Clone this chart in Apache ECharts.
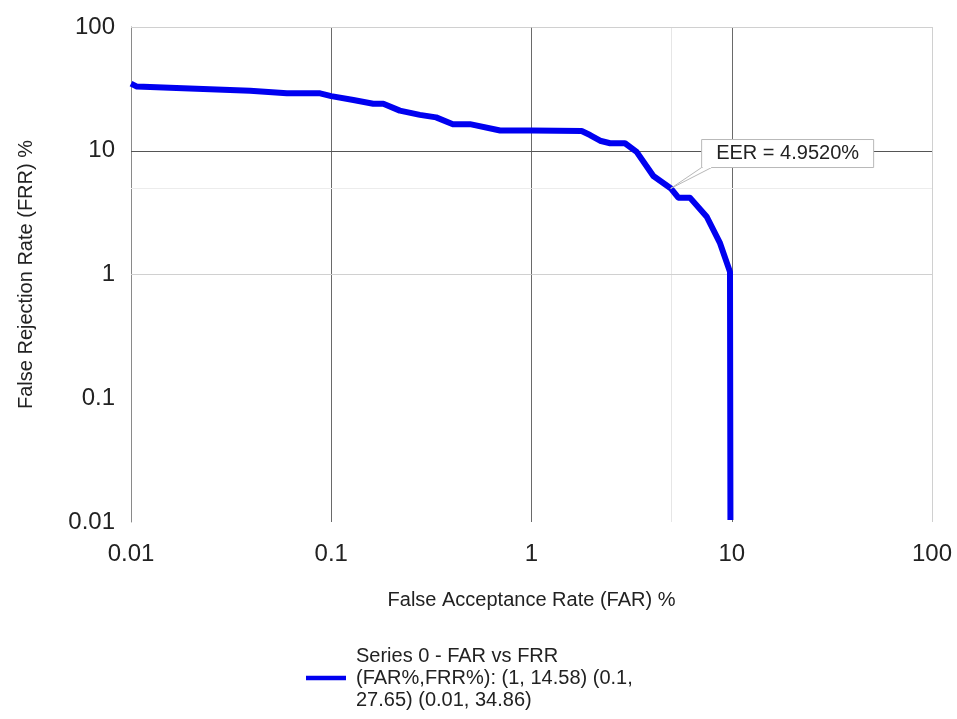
<!DOCTYPE html>
<html>
<head>
<meta charset="utf-8">
<script src="https://cdn.jsdelivr.net/npm/echarts@6/dist/echarts.min.js"></script>
<style>
html,body{margin:0;padding:0;background:#fff;}
#chart{width:957px;height:719px;}
</style>
</head>
<body>
<div id="chart"></div>
<script>
// ---- data ----
const farValues = [0.01, 0.0107, 0.0182, 0.0393, 0.06, 0.088, 0.1, 0.129, 0.162, 0.182, 0.22, 0.277, 0.334, 0.405, 0.493, 0.697, 1, 1.78, 1.96, 2.2, 2.47, 2.93, 3.35, 4.06, 4.952, 5.41, 6.18, 7.5, 8.74, 9.8, 9.85];
const frrValues = [34.86, 33.0, 32.0, 30.6, 29.1, 29.1, 27.65, 25.7, 24.0, 24.0, 21.1, 19.5, 18.6, 16.4, 16.4, 14.58, 14.58, 14.45, 13.4, 12.05, 11.5, 11.5, 9.8, 6.25, 4.98, 4.18, 4.18, 2.93, 1.79, 1.05, 0.0104];
const seriesName = 'Series 0 - FAR vs FRR (FAR%,FRR%): (1, 14.58) (0.1, 27.65) (0.01, 34.86)';
const legendLines = ['Series 0 - FAR vs FRR', '(FAR%,FRR%): (1, 14.58) (0.1,', '27.65) (0.01, 34.86)'];
const xAxisTitle = 'False Acceptance Rate (FAR) %';
const yAxisTitle = 'False Rejection Rate (FRR) %';
const axisMin = 0.01;
const axisMax = 100;
const xDarkGrid = [0.1, 1, 10];
const xLightGrid = [5, 100];
const yDarkGrid = [10];
const yLightGrid = [1, 5, 100];
const eerValue = 4.952;
const eerText = 'EER = 4.9520%';

// ---- chart ----
const FONT = "'Liberation Sans', Arial, sans-serif";
const chart = echarts.init(document.getElementById('chart'), null, {renderer: 'canvas'});

const gridMarks = [];
xDarkGrid.forEach(v => gridMarks.push({xAxis: v, lineStyle: {color: '#6a6a6a', width: 1, type: 'solid'}}));
xLightGrid.forEach(v => gridMarks.push({xAxis: v, lineStyle: {color: v === 100 ? '#d0d0d0' : '#e6e6e6', width: 1, type: 'solid'}}));
yDarkGrid.forEach(v => gridMarks.push({yAxis: v, lineStyle: {color: '#555', width: 1, type: 'solid'}}));
yLightGrid.forEach(v => gridMarks.push({yAxis: v, lineStyle: {color: v === 5 ? '#ececec' : '#d0d0d0', width: 1, type: 'solid'}}));

const pts = farValues.map((x, i) => [x, frrValues[i]]);

chart.setOption({
  animation: false,
  backgroundColor: '#fff',
  grid: {left: 131, right: 25, top: 27, bottom: 197, containLabel: false},
  xAxis: {
    type: 'log', logBase: 10, min: axisMin, max: axisMax,
    name: xAxisTitle, nameLocation: 'middle', nameGap: 68,
    nameTextStyle: {fontFamily: FONT, fontSize: 20, color: '#222'},
    axisLine: {show: false}, axisTick: {show: false},
    splitLine: {show: false}, minorSplitLine: {show: false},
    axisLabel: {fontFamily: FONT, fontSize: 24, color: '#222', margin: 20}
  },
  yAxis: {
    type: 'log', logBase: 10, min: axisMin, max: axisMax,
    name: yAxisTitle, nameLocation: 'middle', nameGap: 95,
    nameTextStyle: {fontFamily: FONT, fontSize: 20, color: '#222'},
    axisLine: {show: true, onZero: false, lineStyle: {color: '#8a8a8a', width: 1}},
    axisTick: {show: false},
    splitLine: {show: false},
    axisLabel: {fontFamily: FONT, fontSize: 24, color: '#222', margin: 16}
  },
  legend: {
    show: true, left: 301, top: 640, orient: 'vertical',
    itemWidth: 40, itemHeight: 14,
    icon: 'path://M0,5 L40,5 L40,9.5 L0,9.5 Z',
    data: [seriesName],
    formatter: () => legendLines.join('\n'),
    textStyle: {fontFamily: FONT, fontSize: 20, color: '#222', lineHeight: 22, padding: [0, 0, 0, 5]}
  },
  series: [
    {
      name: 'grid', type: 'line', data: [], z: 1, silent: true,
      markLine: {silent: true, symbol: ['none', 'none'], label: {show: false}, animation: false, data: gridMarks}
    },
    {
      name: seriesName, type: 'line', data: pts, z: 5,
      showSymbol: false, symbol: 'none',
      lineStyle: {color: '#0000f0', width: 6, join: 'round'},
      itemStyle: {color: '#0000f0'}
    }
  ]
});

const tip = chart.convertToPixel({seriesIndex: 1}, [eerValue, eerValue]);
const tx = tip[0], ty = tip[1];
chart.setOption({
  graphic: [
    {type: 'polygon', z: 100, shape: {points: [[tx, ty], [tx + 31, ty - 21], [tx + 41, ty - 21]]},
     style: {fill: '#fff', stroke: '#b8b8b8', lineWidth: 1}},
    {type: 'rect', z: 101, shape: {x: tx + 31, y: ty - 49, width: 172, height: 28},
     style: {fill: '#fff', stroke: '#b8b8b8', lineWidth: 1}},
    {type: 'rect', z: 102, shape: {x: tx + 32, y: ty - 22.5, width: 8.5, height: 2},
     style: {fill: '#fff'}},
    {type: 'text', z: 103, x: tx + 31 + 86, y: ty - 35,
     style: {text: eerText, fontFamily: FONT, fontSize: 20, fill: '#222', align: 'center', verticalAlign: 'middle'}}
  ]
});
</script>
</body>
</html>
